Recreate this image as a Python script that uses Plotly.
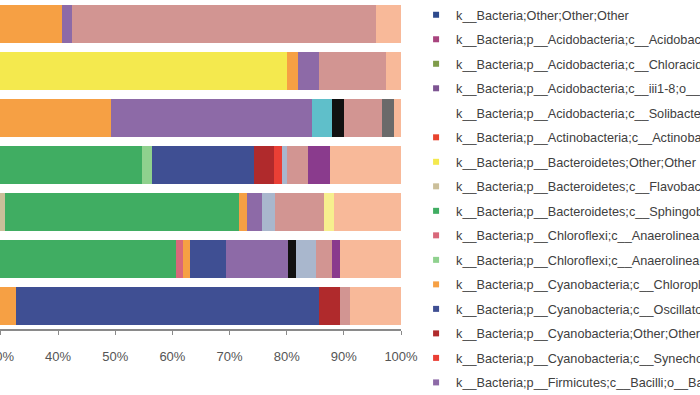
import plotly.graph_objects as go

# Sample bars (top to bottom); their labels are cropped off the left edge
samples = ["S1", "S2", "S3", "S4", "S5", "S6", "S7"]

tick_vals = [30, 40, 50, 60, 70, 80, 90, 100]
tick_text = ["30%", "40%", "50%", "60%", "70%", "80%", "90%", "100%"]

taxa = [
    "k__Bacteria;Other;Other;Other",
    "k__Bacteria;p__Acidobacteria;c__Acidobacteria",
    "k__Bacteria;p__Acidobacteria;c__Chloracidobacteria",
    "k__Bacteria;p__Acidobacteria;c__iii1-8;o__DS-18",
    "k__Bacteria;p__Acidobacteria;c__Solibacteres",
    "k__Bacteria;p__Actinobacteria;c__Actinobacteria",
    "k__Bacteria;p__Bacteroidetes;Other;Other",
    "k__Bacteria;p__Bacteroidetes;c__Flavobacteriia",
    "k__Bacteria;p__Bacteroidetes;c__Sphingobacteriia",
    "k__Bacteria;p__Chloroflexi;c__Anaerolineae;o__A",
    "k__Bacteria;p__Chloroflexi;c__Anaerolineae;o__B",
    "k__Bacteria;p__Cyanobacteria;c__Chloroplast",
    "k__Bacteria;p__Cyanobacteria;c__Oscillatoriophycideae",
    "k__Bacteria;p__Cyanobacteria;Other;Other",
    "k__Bacteria;p__Cyanobacteria;c__Synechococcophycideae",
    "k__Bacteria;p__Firmicutes;c__Bacilli;o__Bacillales",
    "Taxon 17",
    "Taxon 18",
    "Taxon 19",
    "Taxon 20",
    "Taxon 21",
    "Taxon 22",
    "Taxon 23",
    "Other",
]

# relative abundance (%) per sample, S1..S7
other_other = [0, 0, 0, 0, 0, 0, 0]
acido_acido = [0, 0, 0, 0, 0, 0, 0]
acido_chloracido = [0, 0, 0, 0, 0, 0, 0]
acido_iii18 = [0, 0, 0, 0, 0, 0, 0]
acido_soli = [0, 0, 0, 0, 0, 0, 0]
actino = [0, 0, 0, 0, 0, 0, 0]
bacteroidetes_other = [0, 80.0, 0, 0, 0, 0, 0]
flavo = [0, 0, 0, 0, 30.7, 0, 0]
sphingo = [0, 0, 0, 54.6, 41.0, 60.6, 0]
anaerolineae_a = [0, 0, 0, 0, 0, 1.2, 0]
anaerolineae_b = [0, 0, 0, 1.9, 0, 0, 0]
chloroplast = [40.6, 1.9, 49.2, 0, 1.3, 1.2, 32.6]
oscillatoria = [0, 0, 0, 17.8, 0, 6.4, 53.1]
cyano_other = [0, 0, 0, 3.5, 0, 0, 3.7]
synecho = [0, 0, 0, 1.4, 0, 0, 0]
bacilli = [1.9, 3.8, 35.2, 0, 2.6, 10.9, 0]
taxon17 = [0, 0, 3.5, 0, 0, 0, 0]
taxon18 = [0, 0, 2.2, 0, 0, 1.4, 0]
taxon19 = [0, 0, 0, 0.9, 2.4, 3.4, 0]
taxon20 = [53.2, 11.6, 6.6, 3.7, 8.6, 2.8, 1.6]
taxon21 = [0, 0, 0, 3.8, 0, 1.5, 0]
taxon22 = [0, 0, 0, 0, 1.7, 0, 0]
taxon23 = [0, 0, 2.1, 0, 0, 0, 0]
other = [4.3, 2.7, 1.2, 12.4, 11.7, 10.6, 9.0]

values = [
    other_other, acido_acido, acido_chloracido, acido_iii18, acido_soli, actino,
    bacteroidetes_other, flavo, sphingo, anaerolineae_a, anaerolineae_b,
    chloroplast, oscillatoria, cyano_other, synecho, bacilli,
    taxon17, taxon18, taxon19, taxon20, taxon21, taxon22, taxon23, other,
]

colors = [
    "#2d4a8c", "#a8447e", "#7f9c4a", "#7d5492", "#ffffff", "#e8432e",
    "#f4e94e", "#cbbf9a", "#40ad62", "#d8687a", "#8fd18e",
    "#f6a044", "#3f4f93", "#b02a2c", "#ea3f35", "#8d6aa7",
    "#5fbfca", "#111111", "#a9b7cd", "#d29592", "#8a3b8d", "#f7ef8e", "#6a6a6a", "#f8b999",
]

N_LEGEND = 16

fig = go.Figure()
for i, (name, vals, col) in enumerate(zip(taxa, values, colors)):
    fig.add_trace(go.Bar(
        y=samples, x=vals, orientation="h", name=name,
        marker=dict(color=col, line=dict(width=0)),
        legendgroup=f"g{i}", showlegend=False,
    ))
for i in range(N_LEGEND):
    fig.add_trace(go.Scatter(
        x=[None], y=[None], mode="markers", name=taxa[i],
        marker=dict(symbol="square", size=6, color=colors[i]),
        legendgroup=f"g{i}", showlegend=True,
    ))

fig.update_layout(
    width=700, height=395,
    template="plotly_white",
    barmode="stack", bargap=0.19,
    plot_bgcolor="white", paper_bgcolor="white",
    margin=dict(l=0, r=299, t=1, b=66),
    font=dict(family="Arial, Liberation Sans, sans-serif", color="#444444"),
    xaxis=dict(
        range=[29.83, 100], tickmode="array", tickvals=tick_vals, ticktext=tick_text,
        showgrid=False, zeroline=False, automargin=False, ticklabeloverflow="allow",
        showline=True, linecolor="#8a8a8a", linewidth=1.5,
        ticks="outside", ticklen=4, tickcolor="#8a8a8a",
        ticklabelstandoff=11,
        tickfont=dict(size=13, color="#555555"),
    ),
    yaxis=dict(
        categoryorder="array", categoryarray=samples[::-1],
        showticklabels=False, showgrid=False, zeroline=False, automargin=False,
        range=[-0.5, 6.5],
    ),
    legend=dict(
        xref="container", yref="container", x=0.5944, y=1.0,
        xanchor="left", yanchor="top", maxheight=800,
        tracegroupgap=5.0, bgcolor="rgba(0,0,0,0)",
        font=dict(size=12.7, color="#404040"),
    ),
)

fig.write_html(
    "out.html",
    config={"displayModeBar": False},
    post_script="document.body.style.margin='0';document.body.style.overflow='hidden';",
)
